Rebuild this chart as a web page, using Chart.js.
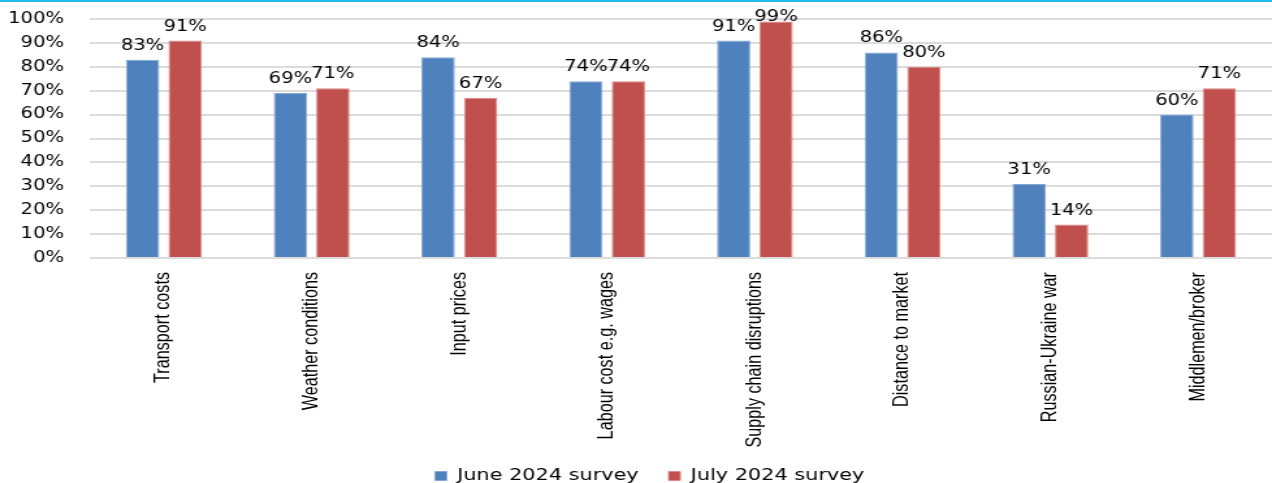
<!DOCTYPE html>
<html>
<head>
<meta charset="utf-8">
<script src="https://cdn.jsdelivr.net/npm/chart.js@4/dist/chart.umd.min.js"></script>
<style>
  html, body { margin: 0; padding: 0; background: #fff; overflow: hidden; }
  #topRule { position: absolute; left: 0; top: 0; width: 1272px; height: 2px; background: #22bdf0; z-index: 2; }
  #wrap { position: absolute; left: 0; top: 0; width: 978px; height: 483px; transform: scaleX(1.3006); transform-origin: 0 0; }
</style>
</head>
<body>
<div id="topRule"></div>
<div id="wrap"><canvas id="c" width="978" height="483"></canvas></div>
<script>
const categories = [
  'Transport costs', 'Weather conditions', 'Input prices', 'Labour cost e.g. wages',
  'Supply chain disruptions', 'Distance to market', 'Russian-Ukraine war', 'Middlemen/broker'
];
const june2024 = [83, 69, 84, 74, 91, 86, 31, 60];
const july2024 = [91, 71, 67, 74, 99, 80, 14, 71];
const seriesNames = ['June 2024 survey', 'July 2024 survey'];
const yTickValues = [0, 10, 20, 30, 40, 50, 60, 70, 80, 90, 100];

// Percentage labels above each bar, kept from running off the top edge
const valueLabels = {
  id: 'valueLabels',
  afterDatasetsDraw(chart) {
    const ctx = chart.ctx;
    ctx.save();
    ctx.font = '15px "DejaVu Sans"';
    ctx.fillStyle = '#000';
    ctx.textAlign = 'center';
    ctx.textBaseline = 'alphabetic';
    chart.data.datasets.forEach((ds, i) => {
      chart.getDatasetMeta(i).data.forEach((bar, j) => {
        const y = Math.max(bar.y - 10, 21);
        ctx.fillText(ds.data[j] + '%', bar.x, y);
      });
    });
    ctx.restore();
  }
};

// Nudge the legend block slightly right and up
const legendNudge = {
  id: 'legendNudge',
  afterLayout(chart) {
    const lg = chart.legend;
    if (!lg) return;
    lg.left += 8; lg.right += 8;
    lg.top -= 4; lg.bottom -= 4;
  }
};

new Chart(document.getElementById('c'), {
  type: 'bar',
  data: {
    labels: categories,
    datasets: [
      { label: seriesNames[0], data: june2024, backgroundColor: '#4f81bd', borderColor: '#86a9d6', borderWidth: 1,
        categoryPercentage: 0.575, barPercentage: 0.786 },
      { label: seriesNames[1], data: july2024, backgroundColor: '#c0504d', borderColor: '#dc8886', borderWidth: 1,
        categoryPercentage: 0.575, barPercentage: 0.786 }
    ]
  },
  options: {
    responsive: false,
    animation: false,
    layout: { padding: { top: 19, left: 5, right: 0, bottom: -15 } },
    plugins: {
      legend: {
        position: 'bottom',
        labels: {
          font: { family: 'DejaVu Sans', size: 16 },
          color: '#000',
          boxWidth: 9,
          boxHeight: 9,
          padding: 23
        }
      },
      tooltip: { enabled: false }
    },
    scales: {
      x: {
        grid: { display: false },
        border: { display: false },
        afterFit(scale) { scale.height = 191; },
        ticks: {
          font: { family: 'Liberation Sans', size: 16.2 },
          color: '#000',
          maxRotation: 90,
          minRotation: 90,
          padding: 6,
          autoSkip: false
        }
      },
      y: {
        min: 0,
        max: 100,
        afterBuildTicks(scale) { scale.ticks = yTickValues.map(v => ({ value: v })); },
        afterFit(scale) {
          scale.width = 64.2;
          scale.paddingTop = 0;
          scale.paddingBottom = 0;
        },
        grid: { color: '#dcdcdc', lineWidth: 2, drawTicks: false },
        border: { display: false },
        ticks: {
          font: { family: 'DejaVu Sans', size: 15 },
          color: '#000',
          padding: 20,
          autoSkip: false,
          callback: v => v + '%'
        }
      }
    }
  },
  plugins: [valueLabels, legendNudge]
});
</script>
</body>
</html>
